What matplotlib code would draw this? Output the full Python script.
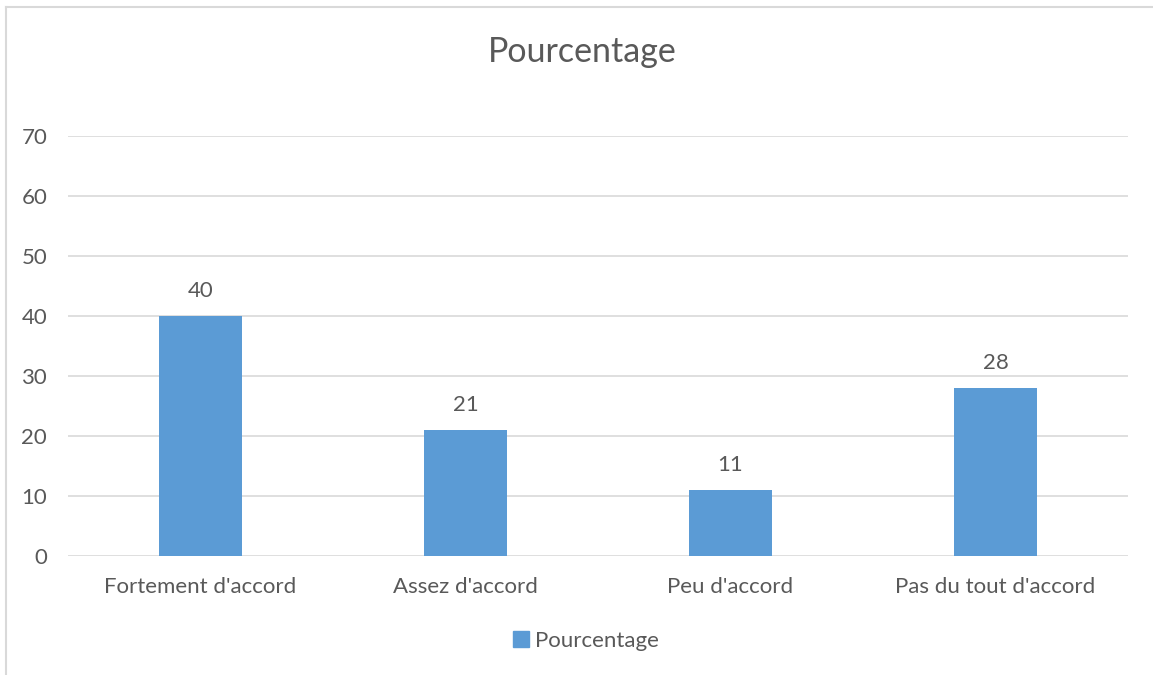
import matplotlib
matplotlib.use("Agg")
import matplotlib.pyplot as plt
from matplotlib.lines import Line2D
from matplotlib.patches import Patch

categories = ["Fortement d'accord", "Assez d'accord", "Peu d'accord", "Pas du tout d'accord"]
values = [40, 21, 11, 28]
series_name = "Pourcentage"
yticks = [0, 10, 20, 30, 40, 50, 60, 70]

W, H = 1153, 675
fig = plt.figure(figsize=(W / 100, H / 100), dpi=100)
plt.rcParams['font.family'] = ['Lato', 'DejaVu Sans']
txt = '#595959'
grid = '#d9d9d9'
bar_color = '#5B9BD5'

ax = fig.add_axes([68 / W, (H - 556) / H, (1128 - 68) / W, (556 - 136) / H])
x = list(range(len(categories)))
bars = ax.bar(x, values, width=0.31, color=bar_color, zorder=3)
ax.set_xlim(-0.5, len(categories) - 0.5)
ax.set_ylim(0, 70)
ax.set_yticks(yticks)
ax.set_yticklabels([str(v) for v in yticks])
ax.set_xticks(x)
ax.set_xticklabels(categories)
for s in ax.spines.values():
    s.set_visible(False)
ax.yaxis.grid(True, color=grid, linewidth=1.2, zorder=0)
ax.tick_params(axis='both', length=0, colors=txt, labelsize=16)
ax.tick_params(axis='y', pad=15)
ax.tick_params(axis='x', pad=15)
ax.set_axisbelow(True)

for b, v in zip(bars, values):
    ax.annotate(str(v), (b.get_x() + b.get_width() / 2, v), xytext=(0, 18),
                textcoords='offset points', ha='center', va='center',
                color=txt, fontsize=16)

fig.text(582 / W, 1 - 52 / H, series_name, ha='center', va='center',
         color=txt, fontsize=24.5)

leg = fig.legend(handles=[Patch(color=bar_color, label=series_name)],
                 loc='center', bbox_to_anchor=(586 / W, 1 - 641 / H),
                 frameon=False, fontsize=16, handlelength=0.7, handleheight=0.7,
                 handletextpad=0.3)
for t in leg.get_texts():
    t.set_color(txt)

# outer border (partial, as in the reference screenshot)
fig.add_artist(Line2D([5.5 / W, 1], [1 - 7 / H, 1 - 7 / H], color=grid, linewidth=1.5,
                      transform=fig.transFigure))
fig.add_artist(Line2D([5.5 / W, 5.5 / W], [0, 1 - 7 / H], color=grid, linewidth=1.5,
                      transform=fig.transFigure))

fig.savefig("out.png", dpi=100)
